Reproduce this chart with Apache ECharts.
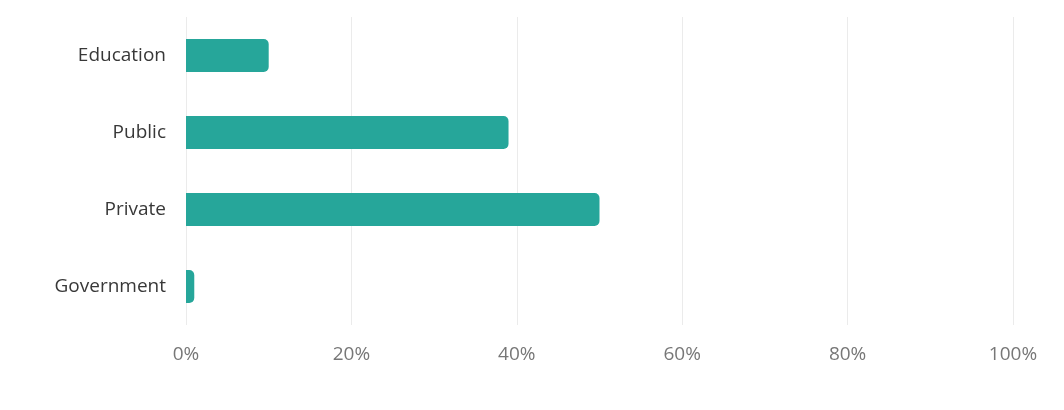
<!DOCTYPE html>
<html>
<head>
<meta charset="utf-8">
<script src="https://cdn.jsdelivr.net/npm/echarts@6/dist/echarts.min.js"></script>
<style>
  html, body { margin: 0; padding: 0; background: #fff; }
  #chart { width: 1064px; height: 410px; }
</style>
</head>
<body>
<div id="chart"></div>
<script>
// categories listed bottom to top (ECharts category y axis starts at the bottom)
var categories = ['Government', 'Private', 'Public', 'Education']
var shares = [1, 50, 39, 10]
var xTicks = [0, 20, 40, 60, 80, 100]

var chart = echarts.init(document.getElementById('chart'))
chart.setOption({
  animation: false,
  textStyle: { fontFamily: 'Open Sans' },
  grid: {
    left: 186,
    right: 51,
    top: 17,
    bottom: 85
  },
  xAxis: {
    type: 'value',
    min: xTicks[0],
    max: xTicks[xTicks.length - 1],
    interval: 20,
    axisLine: { show: false },
    axisTick: { show: false },
    splitLine: { show: true, lineStyle: { color: '#ebebeb', width: 1 } },
    axisLabel: {
      color: '#777',
      fontSize: 19,
      margin: 20,
      formatter: function (v) { return v + '%' }
    }
  },
  yAxis: {
    type: 'category',
    data: categories,
    axisLine: { show: false },
    axisTick: { show: false },
    axisLabel: {
      color: '#383838',
      fontSize: 19,
      margin: 20
    }
  },
  series: [{
    type: 'bar',
    data: shares,
    barWidth: 33,
    itemStyle: {
      color: '#26a69a',
      borderRadius: [0, 5, 5, 0]
    }
  }]
})
</script>
</body>
</html>
